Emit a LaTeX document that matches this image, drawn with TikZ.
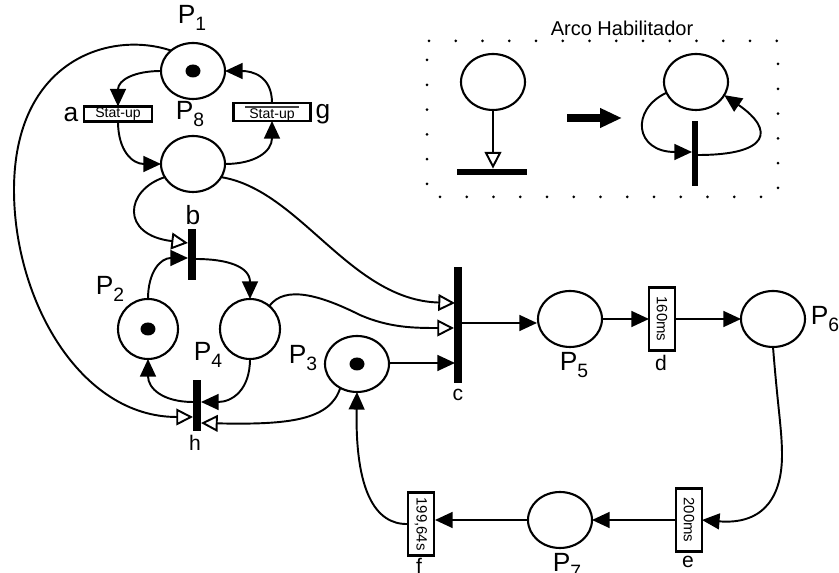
\documentclass[tikz,border=0pt]{standalone}
\usepackage{fontspec}
\setmainfont{Liberation Sans}
\usetikzlibrary{arrows.meta,shapes.geometric}
\newcommand{\plabel}[1]{P\raisebox{-3.5pt}{\fontsize{11}{12}\selectfont #1}}
\tikzset{
  place/.style={draw,ellipse,line width=1.2pt,inner sep=0pt,outer sep=0pt,minimum width=1.28cm,minimum height=1.12cm},
  roundplace/.style={place,minimum width=1.2cm,minimum height=1.2cm},
  tokendot/.style={fill=black,ellipse,inner sep=0pt,minimum width=0.3cm,minimum height=0.26cm},
  thinbar/.style={fill=black,inner sep=0pt,outer sep=0pt,minimum width=0.16cm},
  timebox/.style={draw,line width=1.2pt,inner sep=0pt,outer sep=0pt,minimum width=0.52cm,minimum height=1.26cm,font=\fontsize{8.5}{9}\selectfont},
  startbox/.style={draw,line width=1.2pt,inner sep=0pt,outer sep=0pt,minimum height=0.3cm,font=\fontsize{8}{9}\selectfont},
  arc/.style={-{Triangle[length=10pt,width=9pt]},line width=1.1pt},
  openarc/.style={-{Triangle[open,fill=white,length=9.5pt,width=9.5pt]},line width=1.1pt},
  biglabel/.style={font=\fontsize{15}{17}\selectfont},
  smalllabel/.style={font=\fontsize{12}{14}\selectfont}
}
\begin{document}
\begin{tikzpicture}[x=0.02cm,y=-0.02cm,looseness=1.22]
\useasboundingbox (0,0) rectangle (839,573);
\node[place] (P1) at (193,71) {};
\node[place] (P8) at (193,164) {};
\node[roundplace] (P2) at (148,329) {};
\node[roundplace] (P4) at (250,329) {};
\node[place] (P3) at (357,364) {};
\node[place] (P5) at (570,319) {};
\node[place] (P6) at (773,319) {};
\node[place] (P7) at (560,520) {};
\node[tokendot] (t1) at (P1) {};
\node[tokendot] (t2) at (P2) {};
\node[tokendot] (t3) at (P3) {};
\node[startbox,minimum width=1.36cm] (a) at (118,114) {\raisebox{-1pt}{Stat-up}};
\node[startbox,minimum width=1.54cm,minimum height=0.36cm,text depth=0pt] (g) at (272,112) {\raisebox{-1.5pt}{Stat-up}};
\node[fill=black!75,inner sep=0pt,minimum width=1.08cm,minimum height=1pt] (gbar) at (272,107) {};
\node[thinbar,minimum height=1.02cm] (b) at (192,255) {};
\node[thinbar,minimum height=1.02cm] (h) at (197,406) {};
\node[thinbar,minimum width=0.15cm,minimum height=2.32cm] (c) at (458,325) {};
\node[timebox] (d) at (662,319) {\rotatebox{-90}{160ms}};
\node[timebox] (e) at (689,520) {\rotatebox{-90}{200ms}};
\node[timebox] (f) at (421,524) {\rotatebox{-90}{199,64s}};
\node[biglabel] (lP1) at (192,18) {\plabel{1}};
\node[biglabel] (lP8) at (190,114) {\plabel{8}};
\node[biglabel] (lP2) at (110,289) {\plabel{2}};
\node[biglabel] (lP4) at (208,355) {\plabel{4}};
\node[biglabel] (lP3) at (303,358) {\plabel{3}};
\node[biglabel] (lP5) at (574,365) {\plabel{5}};
\node[biglabel] (lP6) at (825,319) {\plabel{6}};
\node[biglabel] (lP7) at (567,566) {\plabel{7}};
\node[biglabel] (la) at (71,115) {a};
\node[biglabel] (lg) at (323,114) {g};
\node[biglabel] (lb) at (193,215) {b};
\node[smalllabel] (lc) at (458,395) {c};
\node[smalllabel] (ld) at (661,363) {d};
\node[smalllabel] (le) at (688,562) {e};
\node[smalllabel] (lf) at (419,566) {f};
\node[smalllabel] (lh) at (195,443) {h};
\coordinate (bin1) at (188,243);
\coordinate (bin2) at (188,258);
\coordinate (bout) at (196,259);
\coordinate (hin1) at (193,417);
\coordinate (hin2) at (201,423);
\coordinate (hin3) at (201,402);
\coordinate (hout) at (193,402);
\coordinate (cin1) at (455,303);
\coordinate (cin2) at (454,328);
\coordinate (cin3) at (455,363);
\coordinate (cout) at (462,323);
\coordinate (p3out) at (389,363);
\coordinate (p5in) at (537,323);
\coordinate (fin) at (435,520);
\draw[arc] (P1.west) to[out=180,in=90] (a.north);
\draw[arc] (a.south) to[out=-90,in=180] (P8.west);
\draw[arc] (P8.east) to[out=0,in=-90] (g.south);
\draw[arc] (g.north) to[out=90,in=0] (P1.east);
\draw[openarc] (P1.137) .. controls (110,30) and (14,60) .. (14,190) .. controls (14,300) and (80,417) .. (hin1);
\draw[openarc] (P8.205) .. controls (125,190) and (120,235) .. (bin1);
\draw[arc] (P2.north) to[out=90,in=180] (bin2);
\draw[arc] (bout) to[out=0,in=90] (P4.north);
\draw[openarc] (P8.-25) .. controls (300,190) and (350,300) .. (cin1);
\draw[openarc] (P4.50) .. controls (285,285) and (320,295) .. (360,315) .. controls (390,328) and (415,328) .. (cin2);
\draw[arc] (p3out) -- (cin3);
\draw[arc] (cout) -- (p5in);
\draw[arc] (P5.east) -- (d.west);
\draw[arc] (d.east) -- (P6.west);
\draw[arc] (P6.south) .. controls (778,410) and (782,430) .. (782,455) .. controls (782,495) and (765,525) .. (e.east);
\draw[arc] (e.west) -- (P7.east);
\draw[arc] (P7.west) -- (fin);
\draw[arc] (f.west) .. controls (375,525) and (355,490) .. (P3.south);
\draw[arc] (P4.south) to[out=-90,in=0] (hin3);
\draw[arc] (hout) to[out=180,in=-90] (P2.south);
\draw[openarc] (P3.235) .. controls (330,420) and (290,425) .. (hin2);
\node[font=\fontsize{11.4}{13}\selectfont] (title) at (622,28) {Arco Habilitador};
\foreach \i in {0,...,13} \fill (429+26.75*\i,41) circle (1.5);
\foreach \i in {0,...,12} \fill (440+26.75*\i,197) circle (1.5);
\foreach \i in {0,...,5} \fill (427,60+24.8*\i) circle (1.5);
\foreach \i in {0,...,5} \fill (778,64+24.8*\i) circle (1.5);
\node[place] (Q1) at (493,82) {};
\node[fill=black,inner sep=0pt,minimum width=1.4cm,minimum height=0.12cm] (qbar) at (492,172) {};
\draw[openarc] (Q1.south) -- (Q1.south |- qbar.north);
\coordinate (bigfrom) at (567,118);
\coordinate (bigto) at (622,118);
\draw[line width=5pt,-{Triangle[length=12.5pt,width=10.5pt]}] (bigfrom) -- (bigto);
\node[place] (Q2) at (696,82) {};
\node[thinbar,minimum width=0.13cm,minimum height=1.3cm] (rbar) at (695,154) {};
\coordinate (rin) at (692,152);
\coordinate (rout) at (698,155);
\draw[arc] (Q2.200) .. controls (630,110) and (635,152) .. (rin);
\draw[arc] (rout) .. controls (770,155) and (775,130) .. (Q2.-25);
\end{tikzpicture}
\end{document}
